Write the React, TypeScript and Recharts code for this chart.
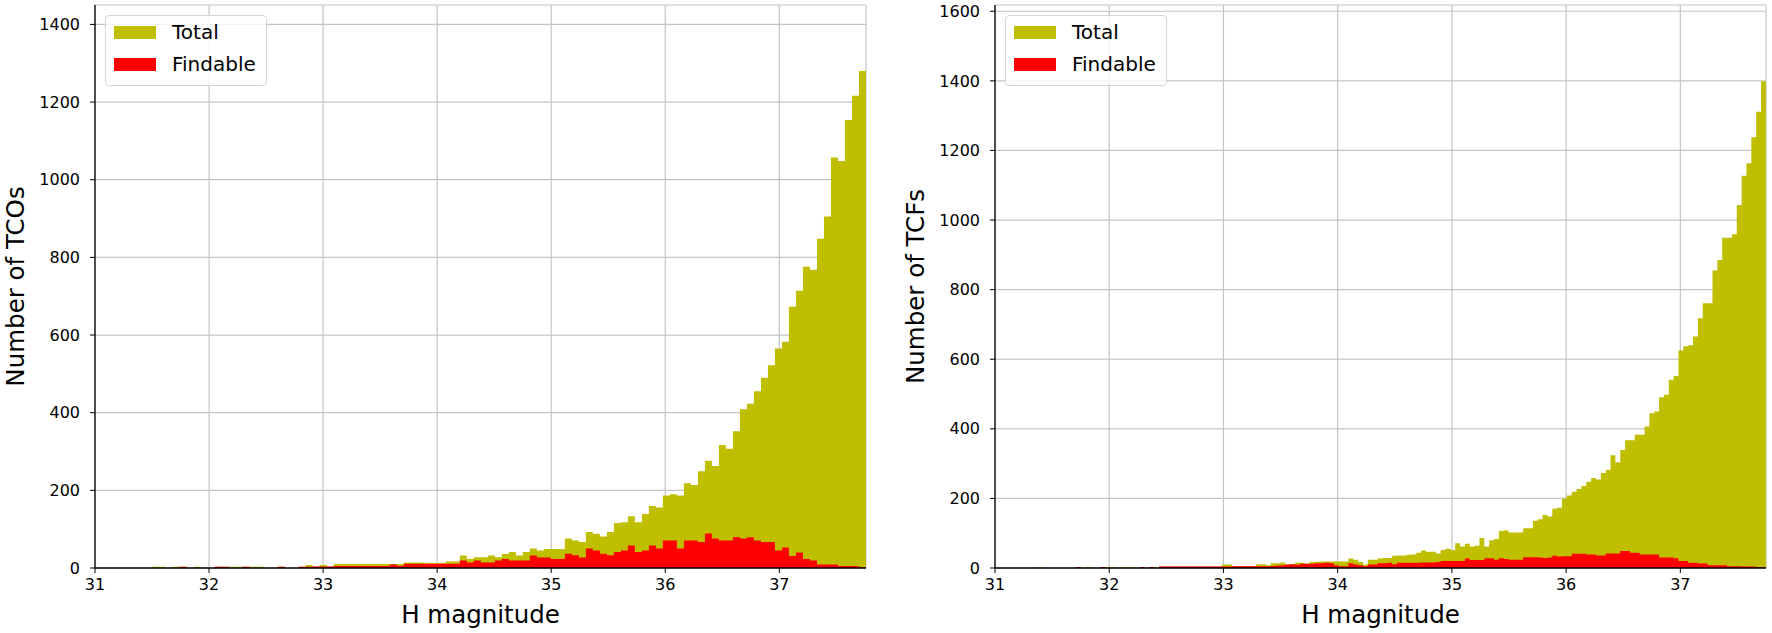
import { useMemo } from "react";
import { ComposedChart, Area, XAxis, YAxis, CartesianGrid } from "recharts";

// tick labels
const X_TICKS = [31, 32, 33, 34, 35, 36, 37];
const TCO_Y_TICKS = [0, 200, 400, 600, 800, 1000, 1200, 1400];
const TCF_Y_TICKS = [0, 200, 400, 600, 800, 1000, 1200, 1400, 1600];

// left panel: TCOs, 102 bins starting at H = 31.497
const TCO_BIN_START = 31.497;
const TCO_BIN_WIDTH = 0.0614;
const TCO_TOTAL = [
  3, 3, 0, 3, 3, 0, 3, 0, 0, 3,
  3, 3, 3, 3, 3, 3, 0, 0, 3, 0,
  0, 3, 8, 4, 8, 4, 10, 10, 10, 10,
  10, 10, 10, 10, 10, 10, 14, 14, 14, 13,
  13, 13, 17, 17, 32, 23, 28, 28, 32, 28,
  36, 41, 32, 41, 50, 45, 49, 49, 49, 76,
  71, 67, 93, 88, 81, 93, 116, 118, 133, 118,
  139, 160, 156, 187, 190, 187, 218, 214, 249, 276,
  263, 317, 307, 352, 409, 423, 455, 490, 522, 565,
  583, 673, 714, 776, 768, 848, 905, 1057, 1048, 1154,
  1216, 1280,
];
const TCO_FINDABLE = [
  0, 0, 0, 0, 3, 0, 0, 0, 0, 3,
  3, 0, 0, 3, 0, 0, 0, 0, 3, 0,
  0, 3, 3, 4, 4, 4, 5, 5, 5, 5,
  5, 5, 5, 5, 9, 6, 11, 11, 11, 11,
  11, 11, 11, 11, 19, 14, 19, 14, 14, 19,
  23, 19, 19, 19, 32, 27, 27, 23, 23, 37,
  33, 27, 50, 45, 37, 33, 41, 45, 58, 41,
  45, 58, 50, 71, 71, 50, 71, 71, 67, 89,
  76, 71, 71, 80, 76, 79, 71, 67, 67, 45,
  53, 31, 40, 23, 19, 9, 9, 9, 5, 5,
  5, 2,
];

// right panel: TCFs, 150 bins starting at H = 31.374
const TCF_BIN_START = 31.374;
const TCF_BIN_WIDTH = 0.0425;
const TCF_TOTAL = [
  3, 0, 0, 0, 0, 0, 0, 0, 3, 0,
  3, 0, 0, 3, 3, 3, 0, 3, 0, 3,
  0, 3, 0, 3, 3, 4, 4, 4, 4, 4,
  4, 4, 4, 4, 4, 4, 4, 4, 10, 10,
  5, 5, 5, 5, 5, 11, 11, 8, 14, 14,
  16, 11, 11, 15, 15, 12, 17, 18, 19, 19,
  19, 19, 19, 19, 27, 24, 17, 10, 24, 24,
  27, 29, 29, 35, 36, 36, 38, 39, 44, 50,
  47, 47, 42, 52, 55, 52, 71, 62, 70, 62,
  64, 86, 62, 80, 83, 106, 108, 102, 102, 102,
  114, 114, 136, 140, 152, 148, 170, 173, 199, 208,
  219, 227, 236, 248, 259, 254, 273, 282, 324, 304,
  339, 367, 367, 383, 383, 407, 445, 450, 491, 498,
  541, 552, 625, 637, 640, 665, 718, 761, 761, 855,
  885, 949, 949, 959, 1043, 1127, 1163, 1238, 1311, 1399,
];
const TCF_FINDABLE = [
  0, 0, 0, 0, 0, 0, 0, 0, 3, 0,
  0, 0, 0, 3, 0, 0, 0, 0, 0, 0,
  0, 3, 0, 3, 0, 4, 4, 4, 4, 4,
  4, 4, 4, 4, 4, 4, 4, 4, 4, 4,
  5, 5, 5, 5, 5, 5, 5, 5, 6, 7,
  8, 10, 11, 9, 12, 12, 12, 14, 14, 15,
  14, 8, 5, 5, 14, 10, 8, 5, 10, 10,
  14, 14, 15, 11, 15, 15, 15, 15, 15, 16,
  16, 16, 17, 20, 20, 20, 20, 20, 27, 23,
  23, 23, 28, 28, 24, 28, 26, 24, 24, 24,
  31, 31, 31, 30, 29, 30, 35, 33, 34, 34,
  41, 41, 41, 39, 39, 36, 36, 42, 42, 42,
  49, 49, 44, 44, 39, 39, 39, 39, 30, 30,
  30, 28, 20, 20, 15, 15, 13, 13, 8, 8,
  8, 8, 5, 5, 5, 4, 4, 4, 2, 2,
];

const TOTAL_COLOR = "#bfbf00";
const FINDABLE_COLOR = "#ff0000";
const GRID_COLOR = "#c4c4c4";

function LegendBox({ left, top }: { left: number; top: number }) {
  const rows = [
    { name: "Total", color: TOTAL_COLOR },
    { name: "Findable", color: FINDABLE_COLOR },
  ];
  return (
    <div
      style={{
        position: "absolute",
        left,
        top,
        width: 162,
        height: 71,
        boxSizing: "border-box",
        padding: "0 0 7px 8px",
        border: "1px solid #d4d4d4",
        borderRadius: 4,
        background: "rgba(255,255,255,0.8)",
        fontSize: 20,
        color: "#000",
      }}
    >
      {rows.map((r) => (
        <div key={r.name} style={{ display: "flex", alignItems: "center", height: 32 }}>
          <span style={{ display: "inline-block", width: 42, height: 13, background: r.color, marginRight: 16 }} />
          <span>{r.name}</span>
        </div>
      ))}
    </div>
  );
}

interface PanelProps {
  left: number;
  width: number;
  rightGap: number;
  yAxisWidth: number;
  total: number[];
  findable: number[];
  binStart: number;
  binWidth: number;
  xMax: number;
  yMax: number;
  yTicks: number[];
  yLabel: string;
}

function HistPanel(p: PanelProps) {
  // one point per bin left edge, plus the closing right edge
  const data = useMemo(() => {
    const rows = p.total.map((t, i) => ({
      h: p.binStart + i * p.binWidth,
      total: t,
      findable: p.findable[i],
    }));
    const n = p.total.length;
    rows.push({ h: p.binStart + n * p.binWidth, total: p.total[n - 1], findable: p.findable[n - 1] });
    return rows;
  }, [p.total, p.findable, p.binStart, p.binWidth]);

  const labelY = (props: any) => {
    const vb = props.viewBox || { x: 0, y: 5, height: 563 };
    const cx = vb.x + p.yAxisWidth - 80;
    const cy = vb.y + vb.height / 2;
    return (
      <text x={cx} y={cy} transform={`rotate(-90, ${cx}, ${cy})`} textAnchor="middle" dominantBaseline="central" fontSize={24.5} fill="#000">
        {p.yLabel}
      </text>
    );
  };

  const labelX = (props: any) => {
    const vb = props.viewBox || { x: 0, y: 568, width: 770, height: 65 };
    return (
      <text x={vb.x + vb.width / 2} y={vb.y + 55} textAnchor="middle" fontSize={24.5} fill="#000">
        H magnitude
      </text>
    );
  };

  return (
    <div style={{ position: "absolute", left: p.left, top: 0, width: p.width, height: 633 }}>
      <ComposedChart width={p.width} height={633} data={data} margin={{ top: 5, right: p.rightGap, bottom: 0, left: 0 }}>
        <XAxis
          dataKey="h"
          type="number"
          domain={[31, p.xMax]}
          allowDataOverflow
          ticks={X_TICKS}
          interval={0}
          height={65}
          tickSize={5}
          tickMargin={6}
          axisLine={{ stroke: "#000", strokeWidth: 1.3 }}
          tickLine={{ stroke: "#000" }}
          tick={{ fill: "#000", fontSize: 16 }}
          label={labelX}
        />
        <YAxis
          type="number"
          domain={[0, p.yMax]}
          allowDataOverflow
          ticks={p.yTicks}
          interval={0}
          width={p.yAxisWidth}
          tickSize={5}
          tickMargin={10}
          axisLine={{ stroke: "#000", strokeWidth: 1.3 }}
          tickLine={{ stroke: "#000" }}
          tick={{ fill: "#000", fontSize: 16 }}
          label={labelY}
        />
        <XAxis xAxisId="top" orientation="top" type="number" domain={[31, p.xMax]} height={0} tick={false} tickLine={false} axisLine={{ stroke: "#000", strokeWidth: 1.3 }} />
        <YAxis yAxisId="right" orientation="right" type="number" domain={[0, p.yMax]} width={0} tick={false} tickLine={false} axisLine={{ stroke: "#000", strokeWidth: 1.3 }} />
        <Area
          type="stepAfter"
          dataKey="total"
          fill={TOTAL_COLOR}
          fillOpacity={1}
          stroke="none"
          dot={false}
          activeDot={false}
          isAnimationActive={false}
        />
        <Area
          type="stepAfter"
          dataKey="findable"
          fill={FINDABLE_COLOR}
          fillOpacity={1}
          stroke="none"
          dot={false}
          activeDot={false}
          isAnimationActive={false}
        />
        <CartesianGrid stroke={GRID_COLOR} strokeWidth={1.2} />
      </ComposedChart>
      <LegendBox left={p.yAxisWidth + 10} top={15} />
    </div>
  );
}

export default function App() {
  return (
    <div
      style={{
        position: "absolute",
        left: 0,
        top: 0,
        width: 1772,
        height: 633,
        background: "#fff",
        fontFamily: "'DejaVu Sans', sans-serif",
      }}
    >
      <HistPanel
        left={0}
        width={880}
        rightGap={14}
        yAxisWidth={95}
        total={TCO_TOTAL}
        findable={TCO_FINDABLE}
        binStart={TCO_BIN_START}
        binWidth={TCO_BIN_WIDTH}
        xMax={37.76}
        yMax={1450}
        yTicks={TCO_Y_TICKS}
        yLabel="Number of TCOs"
      />
      <HistPanel
        left={880}
        width={892}
        rightGap={6}
        yAxisWidth={115}
        total={TCF_TOTAL}
        findable={TCF_FINDABLE}
        binStart={TCF_BIN_START}
        binWidth={TCF_BIN_WIDTH}
        xMax={37.75}
        yMax={1618}
        yTicks={TCF_Y_TICKS}
        yLabel="Number of TCFs"
      />
    </div>
  );
}
